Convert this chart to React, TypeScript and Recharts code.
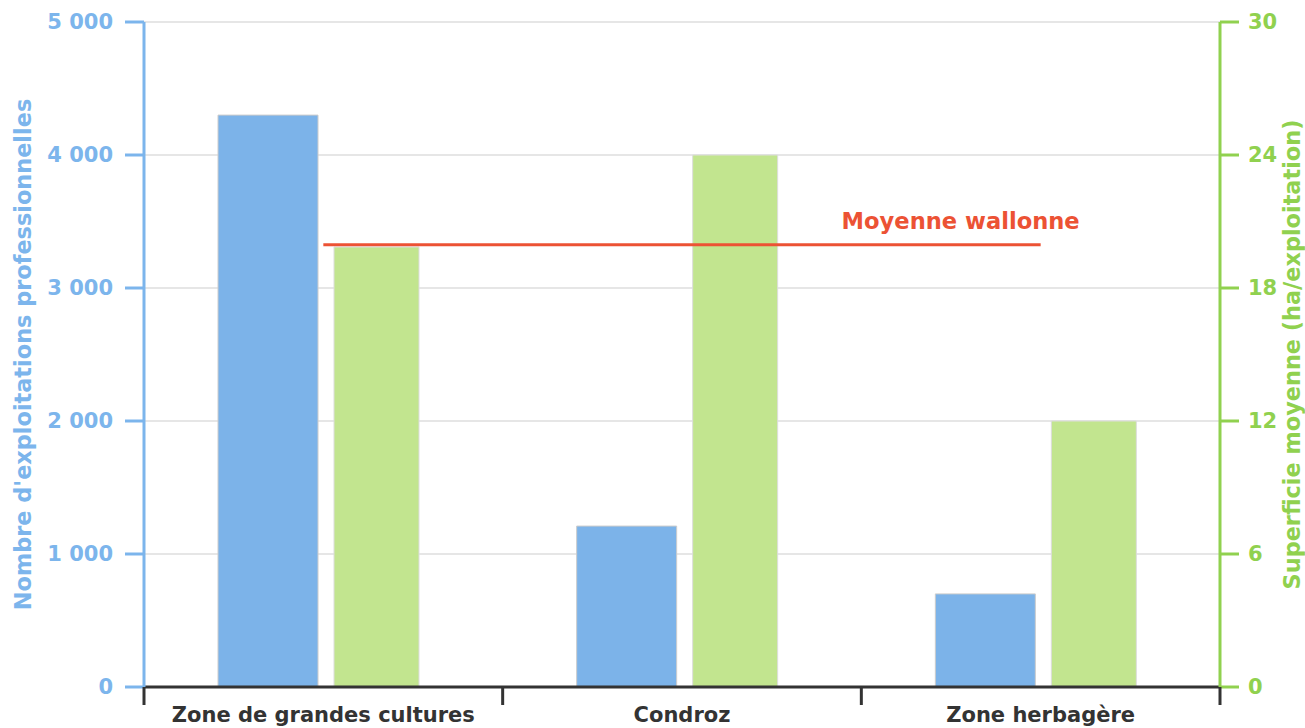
import React from "react";
import {
  BarChart,
  Bar,
  XAxis,
  YAxis,
  CartesianGrid,
  ReferenceLine,
} from "recharts";

const zones = ["Zone de grandes cultures", "Condroz", "Zone herbagère"];
const zoneCenters = [0.5, 1.5, 2.5];
const exploitations = [4300, 1210, 700];
const superficie = [19.85, 24, 12];
const moyenneWallonne = 19.95;
const leftTicks = [0, 1000, 2000, 3000, 4000, 5000];
const rightTicks = [0, 6, 12, 18, 24, 30];
const boundTicks = [0, 0.5, 1, 1.5, 2, 2.5, 3];

const data = zones.map((zone, i) => ({
  zone,
  pos: zoneCenters[i],
  exploitations: exploitations[i],
  superficie: superficie[i],
}));

const BLUE = "#7cb5ec";
const GREEN = "#90d14f";
const RED = "#ec5234";
const DARK = "#333333";
const FONT = "'DejaVu Sans', Verdana, sans-serif";
const TICK_FS = 21;
const TITLE_FS = 22.4;

const fmtThousands = (v: number) =>
  String(v).replace(/\B(?=(\d{3})+(?!\d))/g, " ");

const BoundTick = (props: any) => {
  const { x, y, payload } = props;
  const v = payload.value as number;
  if (Number.isInteger(v)) {
    return (
      <line x1={x} x2={x} y1={y - 20} y2={y - 2} stroke={DARK} strokeWidth={3} />
    );
  }
  return (
    <text
      x={x}
      y={y}
      dy="0.71em"
      textAnchor="middle"
      fill={DARK}
      fontSize={TICK_FS}
      fontWeight="bold"
      fontFamily={FONT}
    >
      {zones[Math.floor(v)]}
    </text>
  );
};

const LeftTitle = (props: any) => {
  const vb = props.viewBox;
  const cx = vb.x + 23;
  const cy = vb.y + vb.height / 2;
  return (
    <text
      x={cx}
      y={cy}
      transform={`rotate(-90, ${cx}, ${cy})`}
      textAnchor="middle"
      dominantBaseline="central"
      fill={BLUE}
      fontSize={TITLE_FS}
      fontWeight="bold"
      fontFamily={FONT}
    >
      Nombre d'exploitations professionnelles
    </text>
  );
};

const RightTitle = (props: any) => {
  const vb = props.viewBox;
  const cx = vb.x + 72;
  const cy = vb.y + vb.height / 2;
  return (
    <text
      x={cx}
      y={cy}
      transform={`rotate(-90, ${cx}, ${cy})`}
      textAnchor="middle"
      dominantBaseline="central"
      fill={GREEN}
      fontSize={TITLE_FS}
      fontWeight="bold"
      fontFamily={FONT}
    >
      Superficie moyenne (ha/exploitation)
    </text>
  );
};

const MoyenneLabel = (props: any) => {
  const vb = props.viewBox || {};
  const x = (vb.x ?? 0) + (vb.width ?? 0) + 39;
  const y = (vb.y ?? 0) - 16;
  return (
    <text
      x={x}
      y={y}
      textAnchor="end"
      fill={RED}
      fontSize={22.6}
      fontWeight="bold"
      fontFamily={FONT}
    >
      Moyenne wallonne
    </text>
  );
};

export default function App() {
  return (
    <div style={{ position: "absolute", left: 0, top: 0, width: 1305, height: 728, background: "#fff" }}>
      <BarChart
        width={1305}
        height={728}
        data={data}
        margin={{ top: 22, right: 0, bottom: 0, left: 0 }}
        barGap={16}
        style={{ fontFamily: FONT }}
      >
        <CartesianGrid
          yAxisId="left"
          xAxisId="bars"
          vertical={false}
          stroke="#e6e6e6"
          strokeWidth={2}
        />
        <XAxis xAxisId="bars" dataKey="zone" hide height={0} padding={{ left: -5, right: 5 }} />
        <XAxis
          xAxisId="bounds"
          dataKey="pos"
          type="number"
          domain={[0, 3]}
          ticks={boundTicks}
          interval={0}
          height={41}
          tickLine={false}
          tickSize={18}
          tickMargin={2}
          axisLine={{ stroke: DARK, strokeWidth: 3 }}
          tick={<BoundTick />}
          allowDataOverflow
        />
        <YAxis
          yAxisId="left"
          orientation="left"
          width={144}
          domain={[0, 5000]}
          ticks={leftTicks}
          interval={0}
          tickFormatter={fmtThousands}
          tickSize={19}
          tickMargin={12}
          axisLine={{ stroke: BLUE, strokeWidth: 3 }}
          tickLine={{ stroke: BLUE, strokeWidth: 3 }}
          tick={{ fill: BLUE, fontSize: TICK_FS, fontWeight: "bold", fontFamily: FONT }}
          label={<LeftTitle />}
        />
        <YAxis
          yAxisId="right"
          orientation="right"
          width={85}
          domain={[0, 30]}
          ticks={rightTicks}
          interval={0}
          tickSize={19}
          tickMargin={9}
          axisLine={{ stroke: GREEN, strokeWidth: 3 }}
          tickLine={{ stroke: GREEN, strokeWidth: 3 }}
          tick={{ fill: GREEN, fontSize: TICK_FS, fontWeight: "bold", fontFamily: FONT }}
          label={<RightTitle />}
        />
        <Bar
          xAxisId="bars"
          yAxisId="left"
          dataKey="exploitations"
          barSize={100}
          fill="#7cb3e9"
          stroke="#cccccc"
          strokeWidth={1}
          isAnimationActive={false}
        />
        <Bar
          xAxisId="bars"
          yAxisId="right"
          dataKey="superficie"
          barSize={85}
          fill="#c2e58f"
          stroke="#dddddd"
          strokeWidth={1}
          isAnimationActive={false}
        />
        <ReferenceLine
          xAxisId="bounds"
          yAxisId="right"
          segment={[
            { x: 0.5, y: moyenneWallonne },
            { x: 2.5, y: moyenneWallonne },
          ]}
          stroke={RED}
          strokeWidth={3}
          label={<MoyenneLabel />}
          ifOverflow="visible"
        />
      </BarChart>
    </div>
  );
}
